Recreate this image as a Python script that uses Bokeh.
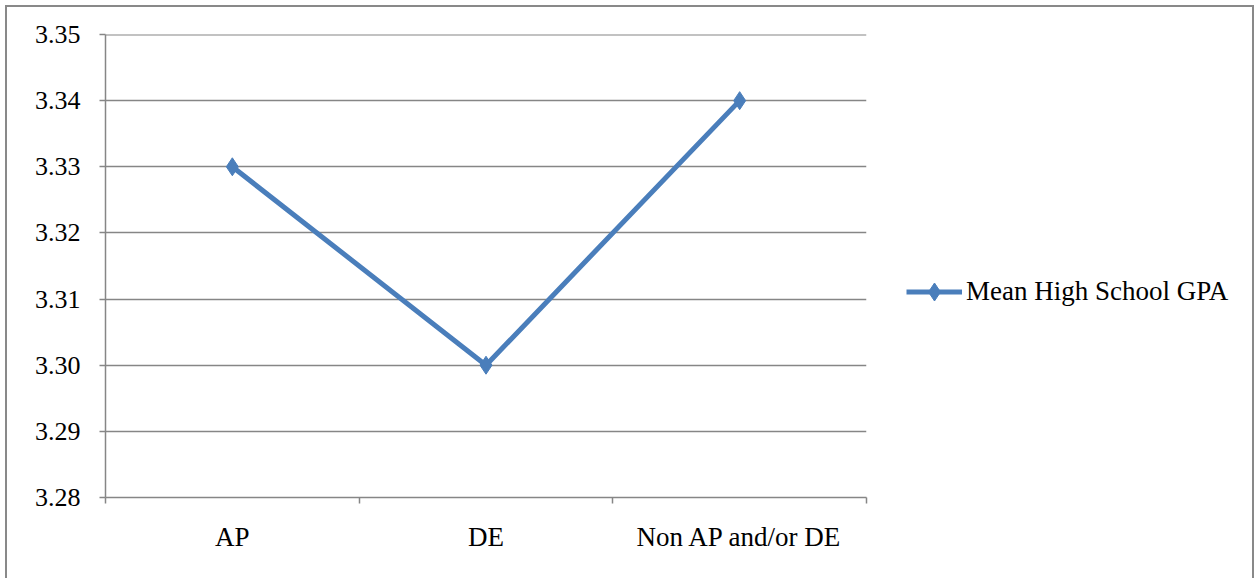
from bokeh.plotting import figure
from bokeh.models import (FixedTicker, PrintfTickFormatter, Legend, LegendItem,
                          Range1d, Span, InlineStyleSheet)
from bokeh.embed import file_html
from bokeh.resources import INLINE

# Mean high school GPA by course-taking group
categories = ["AP", "DE", "Non AP and/or DE"]
gpa = [3.33, 3.30, 3.34]
y_ticks = [3.28, 3.29, 3.30, 3.31, 3.32, 3.33, 3.34, 3.35]
series_name = "Mean High School GPA"

FONT = "'Liberation Serif', 'Times New Roman', serif"
TICK_SIZE = "26px"
LABEL_SIZE = "27px"
GRID = "#868686"
BLUE = "#4A7EBB"

# category centres sit in the middle of equal-width bands
x_pos = [i + 0.5 for i in range(len(categories))]
band_edges = [i for i in range(len(categories) + 1)]

p = figure(frame_width=761, frame_height=463,
           min_border_left=105, min_border_right=390,
           min_border_top=34, min_border_bottom=81,
           x_range=Range1d(0, len(categories)),
           y_range=Range1d(y_ticks[0], y_ticks[-1]),
           output_backend="svg", toolbar_location=None,
           background_fill_color="white", border_fill_alpha=0)
p.outline_line_color = None

# light grey chart border painted behind the transparent canvas
p.stylesheets = [InlineStyleSheet(css="""
:host {
  background:
    linear-gradient(#898989, #898989) 5px 5px / 2px 100% no-repeat,
    linear-gradient(#898989, #898989) 5px 5px / 1249px 2px no-repeat,
    linear-gradient(#898989, #898989) 1252px 5px / 2px 100% no-repeat,
    white;
}
""")]

# y axis
p.yaxis.ticker = FixedTicker(ticks=y_ticks)
p.yaxis.formatter = PrintfTickFormatter(format="%.2f")
p.yaxis.axis_line_color = GRID
p.yaxis.axis_line_width = 1.5
p.yaxis.major_tick_line_color = GRID
p.yaxis.major_tick_line_width = 1.5
p.yaxis.major_tick_in = 0
p.yaxis.major_tick_out = 6
p.yaxis.minor_tick_line_color = None
p.yaxis.major_label_standoff = 19
p.yaxis.major_label_text_font = FONT
p.yaxis.major_label_text_font_size = TICK_SIZE
p.yaxis.major_label_text_color = "black"

# x axis: labels at band centres, tick marks at band edges
p.xaxis.ticker = FixedTicker(ticks=x_pos, minor_ticks=band_edges)
p.xaxis.major_label_overrides = {x: c for x, c in zip(x_pos, categories)}
p.xaxis.axis_line_color = GRID
p.xaxis.axis_line_width = 1.5
p.xaxis.major_tick_line_color = None
p.xaxis.minor_tick_line_color = GRID
p.xaxis.minor_tick_line_width = 1.5
p.xaxis.minor_tick_in = 0
p.xaxis.minor_tick_out = 6
p.xaxis.major_label_standoff = 18
p.xaxis.major_label_text_font = FONT
p.xaxis.major_label_text_font_size = LABEL_SIZE
p.xaxis.major_label_text_color = "black"

# horizontal gridlines only
p.xgrid.grid_line_color = None
p.ygrid.ticker = FixedTicker(ticks=y_ticks)
p.ygrid.grid_line_color = GRID
p.ygrid.grid_line_width = 1.5
p.add_layout(Span(location=y_ticks[-1], dimension="width",
                  line_color=GRID, line_width=2))

line = p.line(x_pos, gpa, line_color=BLUE, line_width=5)
marks = p.scatter(x_pos, gpa, marker="diamond", size=18,
                  fill_color=BLUE, line_color=BLUE, line_width=1)

legend = Legend(items=[LegendItem(label=series_name, renderers=[line, marks])],
                location=(40, 183), orientation="vertical",
                glyph_width=56, glyph_height=45, label_height=45,
                label_standoff=4, padding=0, margin=0, spacing=0,
                border_line_color=None, background_fill_alpha=0,
                label_text_font=FONT, label_text_font_size=LABEL_SIZE,
                label_text_color="black")
p.add_layout(legend, "right")

open("out.html", "w").write(file_html(p, INLINE))
